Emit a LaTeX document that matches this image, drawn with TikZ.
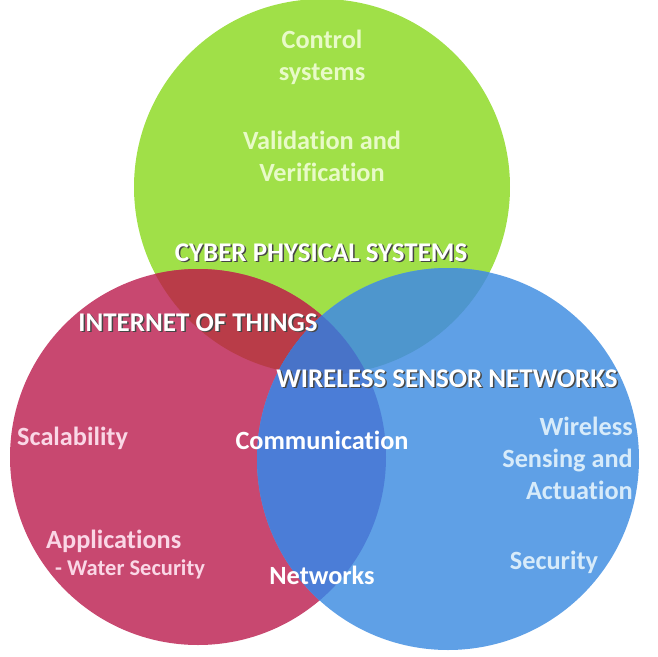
\documentclass[tikz,border=0pt]{standalone}
\usepackage{fontspec}
\setmainfont{Carlito}[Ligatures=NoCommon]
\definecolor{cpsgreen}{RGB}{160,224,72}
\definecolor{iotred}{RGB}{200,72,112}
\definecolor{wsnblue}{RGB}{95,160,230}
\definecolor{iotcps}{RGB}{185,60,72}
\definecolor{cpswsn}{RGB}{78,150,205}
\definecolor{iotwsn}{RGB}{75,125,215}
\definecolor{allthree}{RGB}{72,115,200}
\definecolor{greentext}{RGB}{232,250,200}
\definecolor{redtext}{RGB}{250,215,230}
\definecolor{bluetext}{RGB}{215,235,250}
\definecolor{shadowgray}{RGB}{70,70,70}
% white title with a dark drop shadow, in one box
\newcommand{\shadowed}[1]{\rlap{\hspace{1.5pt}\raisebox{-1.5pt}{\textcolor{shadowgray}{#1}}}#1}
\tikzset{
  txt/.style={inner sep=0pt, font=\fontsize{26.3}{32}\selectfont\bfseries},
  title/.style={inner sep=0pt, font=\fontsize{27}{32}\selectfont\bfseries, text=white}
}
\begin{document}
\begin{tikzpicture}[x=1pt, y=-1pt]
\useasboundingbox (0,0) rectangle (657,657);
\coordinate (cps) at (322,187);
\coordinate (iot) at (198,457);
\coordinate (wsn) at (448,459);
% the three sets
\fill[cpsgreen] (cps) circle (188pt);
\fill[iotred] (iot) circle (188pt);
\fill[wsnblue] (wsn) circle (191pt);
% overlaps
\begin{scope}
  \clip (cps) circle (188pt);
  \fill[iotcps] (iot) circle (188pt);
  \fill[cpswsn] (wsn) circle (191pt);
\end{scope}
\begin{scope}
  \clip (iot) circle (188pt);
  \fill[iotwsn] (wsn) circle (191pt);
  \clip (wsn) circle (191pt);
  \fill[allthree] (cps) circle (188pt);
\end{scope}
% cyber physical systems
\node[txt, text=greentext, align=center] (control) at (322,57) {Control\\systems};
\node[txt, text=greentext, align=center] (valid) at (322,156) {Validation and\\Verification};
\node[title] (cps title) at (321,253) {\shadowed{CYBER PHYSICAL SYSTEMS}};
% internet of things
\node[title] (iot title) at (198,323) {\shadowed{INTERNET OF THINGS}};
\node[txt, text=redtext, anchor=west] (scal) at (17,438) {Scalability};
\node[txt, text=redtext, anchor=west] (apps) at (46,541) {Applications};
\node[txt, text=redtext, anchor=west, font=\fontsize{22.5}{26}\selectfont\bfseries] (water) at (55,569) {- Water Security};
% wireless sensor networks
\node[title] (wsn title) at (447,379) {\shadowed{WIRELESS SENSOR NETWORKS}};
\node[txt, text=bluetext, anchor=east, align=right] (sensing) at (633,458) {Wireless\\Sensing and\\Actuation};
\node[txt, text=bluetext] (sec) at (554,562) {Security};
% shared
\node[txt, text=white] (comm) at (322,440) {Communication};
\node[txt, text=white] (net) at (322,575) {Networks};
\end{tikzpicture}
\end{document}
